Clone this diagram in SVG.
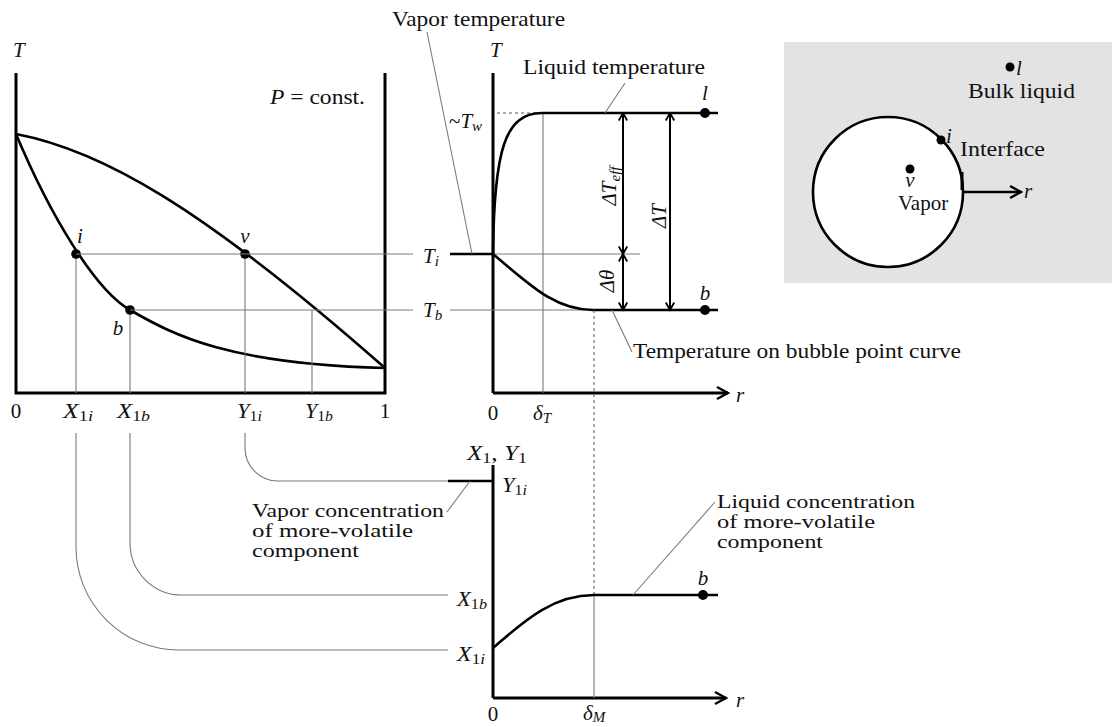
<svg xmlns="http://www.w3.org/2000/svg" width="1113" height="727" viewBox="0 0 1113 727">
<style>
text{font-family:"Liberation Serif","Times New Roman",serif;font-size:21px;fill:#111}
.it{font-style:italic}
.sub{font-size:15px}
.ml{font-size:18px}
.ax{fill:none;stroke:#000;stroke-width:3}
.cv{fill:none;stroke:#000;stroke-width:2.6}
.th{fill:none;stroke:#7a7a7a;stroke-width:1.1}
.ds{fill:none;stroke:#555;stroke-width:1;stroke-dasharray:3,3}
.dim{fill:none;stroke:#000;stroke-width:2;marker-start:url(#dh);marker-end:url(#dh)}
</style>
<defs>
<marker id="dh" markerUnits="userSpaceOnUse" viewBox="0 0 12 12" markerWidth="12" markerHeight="12" refX="10.5" refY="6" orient="auto-start-reverse">
<path d="M3,1.8 L10.5,6 L3,10.2" fill="none" stroke="#000" stroke-width="1.8"/>
</marker>
<marker id="ar" markerUnits="userSpaceOnUse" viewBox="0 0 16 16" markerWidth="16" markerHeight="16" refX="14" refY="8" orient="auto">
<path d="M3,2 L14,8 L3,14" fill="none" stroke="#000" stroke-width="2.4"/>
</marker>
</defs>
<rect width="1113" height="727" fill="#fff"/>

<g id="phase-diagram">
<path class="ax" d="M16,73 V393 H385 V73"/>
<path class="cv" d="M16,134 C100,150 200,205 385,368"/>
<path class="cv" d="M16,134 C50,215 95,290 130,310 C175,336 230,364 385,368"/>
<path class="th" d="M76,254 V393 M130,310 V393 M245,254 V393 M312,310 V393"/>
<circle cx="76" cy="254" r="4.8"/>
<circle cx="130" cy="310" r="4.8"/>
<circle cx="245" cy="254" r="4.8"/>
<text x="13" y="57" class="it">T</text>
<text x="270" y="104" textLength="95" lengthAdjust="spacingAndGlyphs"><tspan class="it">P</tspan> = const.</text>
<text x="80" y="243" class="it" text-anchor="middle">i</text>
<text x="245" y="243" class="it" text-anchor="middle">v</text>
<text x="118" y="335" class="it" text-anchor="middle">b</text>
<text x="16" y="418" text-anchor="middle">0</text>
<text x="63" y="418" textLength="30" lengthAdjust="spacingAndGlyphs"><tspan class="it">X</tspan><tspan class="sub" dy="3">1</tspan><tspan class="sub it">i</tspan></text>
<text x="117" y="418" textLength="33" lengthAdjust="spacingAndGlyphs"><tspan class="it">X</tspan><tspan class="sub" dy="3">1</tspan><tspan class="sub it">b</tspan></text>
<text x="237" y="418" textLength="25" lengthAdjust="spacingAndGlyphs"><tspan class="it">Y</tspan><tspan class="sub" dy="3">1</tspan><tspan class="sub it">i</tspan></text>
<text x="305" y="418" textLength="28" lengthAdjust="spacingAndGlyphs"><tspan class="it">Y</tspan><tspan class="sub" dy="3">1</tspan><tspan class="sub it">b</tspan></text>
<text x="385" y="418" text-anchor="middle">1</text>
</g>

<g id="temperature-profile">
<line class="ax" x1="493" y1="73" x2="493" y2="393"/>
<line class="ax" x1="493" y1="393" x2="728" y2="393" marker-end="url(#ar)"/>
<path class="th" d="M493,254 H640 M450,310 H593 M543,113 V393"/>
<path class="ds" d="M497,113 H540"/>
<line x1="450" y1="254" x2="493" y2="254" stroke="#000" stroke-width="2.6"/>
<path class="cv" d="M493,254 C494,150 505,113 542,113 H718"/>
<path class="cv" d="M493,254 C530,285 555,310 593,310 H718"/>
<circle cx="705" cy="113" r="5"/>
<circle cx="705" cy="310" r="5"/>
<line class="dim" x1="623" y1="113" x2="623" y2="254"/>
<line class="dim" x1="623" y1="254" x2="623" y2="310"/>
<line class="dim" x1="670" y1="113" x2="670" y2="310"/>
<text x="490" y="57" class="it">T</text>
<text x="449" y="128">~<tspan class="it">T</tspan><tspan class="sub it" dy="3">w</tspan></text>
<text x="423" y="263"><tspan class="it">T</tspan><tspan class="sub it" dy="3">i</tspan></text>
<text x="423" y="317"><tspan class="it">T</tspan><tspan class="sub it" dy="3">b</tspan></text>
<text x="705" y="100" class="it" text-anchor="middle">l</text>
<text x="705" y="300" class="it" text-anchor="middle">b</text>
<text x="493" y="420" text-anchor="middle">0</text>
<text x="533" y="420" class="it">δ<tspan class="sub" dy="3">T</tspan></text>
<text x="736" y="402" class="it">r</text>
<text transform="translate(616,186) rotate(-90)" text-anchor="middle" class="it">ΔT<tspan class="sub" dy="4">eff</tspan></text>
<text transform="translate(666,216) rotate(-90)" text-anchor="middle" class="it">ΔT</text>
<text transform="translate(614,281) rotate(-90)" text-anchor="middle" class="it">Δθ</text>
<text x="392" y="26" textLength="173" lengthAdjust="spacingAndGlyphs">Vapor temperature</text>
<text x="523" y="74" textLength="182" lengthAdjust="spacingAndGlyphs">Liquid temperature</text>
<text x="633" y="358" textLength="328" lengthAdjust="spacingAndGlyphs">Temperature on bubble point curve</text>
</g>

<g id="concentration-profile">
<line class="ax" x1="493" y1="465" x2="493" y2="698"/>
<line class="ax" x1="493" y1="698" x2="726" y2="698" marker-end="url(#ar)"/>
<path class="ds" d="M594,310 V595"/>
<path class="th" d="M594,595 V698"/>
<line x1="448" y1="481" x2="493" y2="481" stroke="#000" stroke-width="2.6"/>
<path class="cv" d="M493,648 C520,625 550,595 594,595 H718"/>
<circle cx="703" cy="595" r="5"/>
<text x="467" y="460" textLength="60" lengthAdjust="spacingAndGlyphs"><tspan class="it">X</tspan><tspan class="sub" dy="3">1</tspan><tspan dy="-3">, </tspan><tspan class="it">Y</tspan><tspan class="sub" dy="3">1</tspan></text>
<text x="502" y="492" textLength="25" lengthAdjust="spacingAndGlyphs"><tspan class="it">Y</tspan><tspan class="sub" dy="3">1</tspan><tspan class="sub it">i</tspan></text>
<text x="457" y="606" textLength="30" lengthAdjust="spacingAndGlyphs"><tspan class="it">X</tspan><tspan class="sub" dy="3">1</tspan><tspan class="sub it">b</tspan></text>
<text x="457" y="661" textLength="28" lengthAdjust="spacingAndGlyphs"><tspan class="it">X</tspan><tspan class="sub" dy="3">1</tspan><tspan class="sub it">i</tspan></text>
<text x="703" y="585" class="it" text-anchor="middle">b</text>
<text x="493" y="721" text-anchor="middle">0</text>
<text x="583" y="720" class="it">δ<tspan class="sub" dy="2">M</tspan></text>
<text x="736" y="707" class="it">r</text>
<text x="252" y="517" class="ml" textLength="192" lengthAdjust="spacingAndGlyphs">Vapor concentration</text>
<text x="252" y="537" class="ml" textLength="161" lengthAdjust="spacingAndGlyphs">of more-volatile</text>
<text x="252" y="557" class="ml" textLength="107" lengthAdjust="spacingAndGlyphs">component</text>
<text x="717" y="508" class="ml" textLength="198" lengthAdjust="spacingAndGlyphs">Liquid concentration</text>
<text x="717" y="528" class="ml" textLength="158" lengthAdjust="spacingAndGlyphs">of more-volatile</text>
<text x="717" y="548" class="ml" textLength="106" lengthAdjust="spacingAndGlyphs">component</text>
</g>

<g id="bubble-inset">
<rect x="784" y="42" width="328" height="241" fill="#e3e3e3"/>
<circle cx="888" cy="192" r="75" fill="#fff" stroke="#000" stroke-width="2.6"/>
<line x1="962" y1="172" x2="962" y2="190" stroke="#000" stroke-width="3"/>
<line x1="963" y1="192" x2="1021" y2="192" stroke="#000" stroke-width="2.4" marker-end="url(#ar)"/>
<circle cx="1010" cy="67" r="4.5"/>
<circle cx="941" cy="140" r="4.5"/>
<circle cx="910" cy="169" r="4.5"/>
<text x="1016" y="75" class="it">l</text>
<text x="968" y="98" textLength="107" lengthAdjust="spacingAndGlyphs">Bulk liquid</text>
<text x="946" y="143" class="it">i</text>
<text x="960" y="156" textLength="85" lengthAdjust="spacingAndGlyphs">Interface</text>
<text x="910" y="187" class="it" text-anchor="middle">v</text>
<text x="898" y="210">Vapor</text>
<text x="1024" y="198" class="it">r</text>
</g>

<g id="connectors">
<path class="th" d="M76,254 H413 M130,310 H413"/>
<path class="th" d="M76,433 V547 A103,103 0 0 0 179,650 H448"/>
<path class="th" d="M130,433 V543 A52,52 0 0 0 182,595 H448"/>
<path class="th" d="M245,433 V448 A33,33 0 0 0 278,481 H448"/>
<path class="th" d="M427,32 L472,254"/>
<path class="th" d="M605,113 L625,83"/>
<path class="th" d="M612,310 L632,352"/>
<path class="th" d="M470,481 L447,512"/>
<path class="th" d="M633,595 L715,502"/>
</g>
</svg>
